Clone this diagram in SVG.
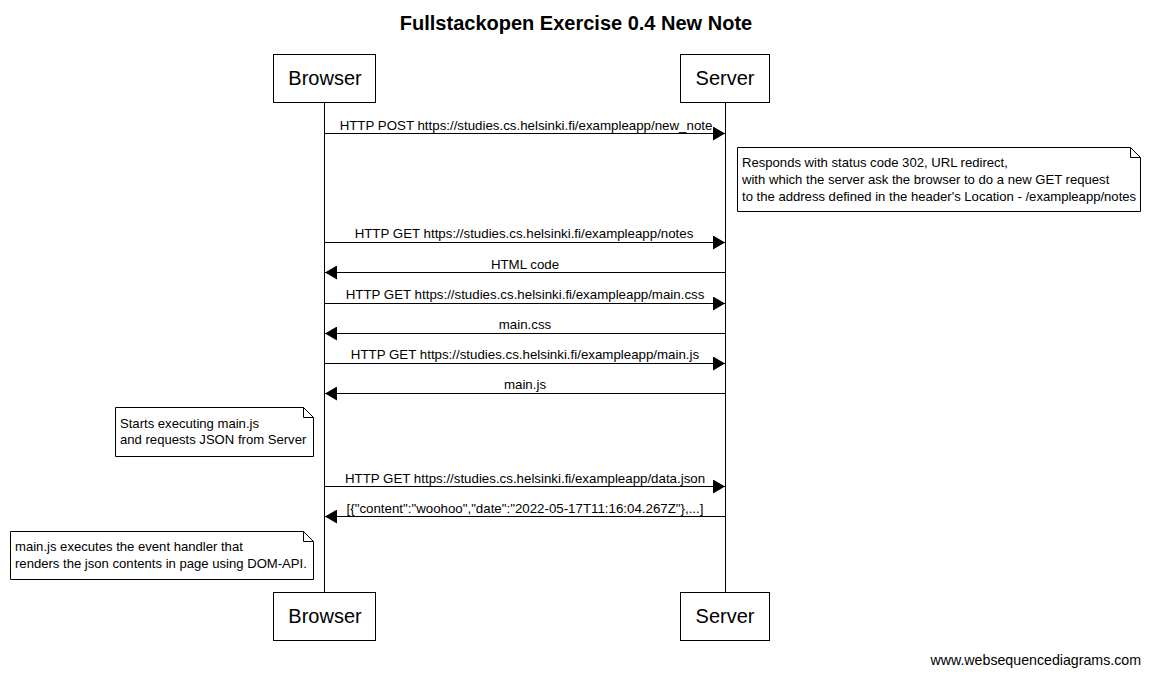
<svg xmlns="http://www.w3.org/2000/svg" width="1150" height="675" viewBox="0 0 1150 675">
<style>
text{font-family:"Liberation Sans",Arial,sans-serif;fill:#000}
.title{font-size:20px;font-weight:bold;text-anchor:middle}
.actor{font-size:20px;text-anchor:middle}
.lbl{font-size:13.3px;text-anchor:middle}
.note{font-size:13.1px}
.box{fill:#fff;stroke:#000;stroke-width:1}
.life{stroke:#000;stroke-width:1}
.msg{stroke:#000;stroke-width:1;fill:none}
.wm{font-size:14.2px;text-anchor:end}
</style>
<defs>
<marker id="ah" markerWidth="12" markerHeight="14" refX="12" refY="7" orient="auto" markerUnits="userSpaceOnUse">
<path d="M0,0 L12,7 L0,14 Z" fill="#000"/>
</marker>
</defs>
<rect width="1150" height="675" fill="#fff"/>
<text class="title" x="576" y="30">Fullstackopen Exercise 0.4 New Note</text>
<g id="lifelines">
<line class="life" x1="324.5" y1="102" x2="324.5" y2="592"/>
<line class="life" x1="725.5" y1="102" x2="725.5" y2="592"/>
</g>
<g id="browser-top"><rect class="box" x="273.5" y="54.5" width="102" height="48"/><text class="actor" x="325" y="85">Browser</text></g>
<g id="server-top"><rect class="box" x="680.5" y="54.5" width="89" height="48"/><text class="actor" x="725" y="85">Server</text></g>
<g id="browser-bottom"><rect class="box" x="273.5" y="592.5" width="102" height="48"/><text class="actor" x="325" y="623">Browser</text></g>
<g id="server-bottom"><rect class="box" x="680.5" y="592.5" width="89" height="48"/><text class="actor" x="725" y="623">Server</text></g>
<g id="connectors">
<line class="msg" x1="325" y1="133.5" x2="725" y2="133.5" marker-end="url(#ah)"/>
<text class="lbl" x="526" y="130">HTTP POST https://studies.cs.helsinki.fi/exampleapp/new_note</text>
<line class="msg" x1="325" y1="242.5" x2="725" y2="242.5" marker-end="url(#ah)"/>
<text class="lbl" x="524" y="238">HTTP GET https://studies.cs.helsinki.fi/exampleapp/notes</text>
<line class="msg" x1="725" y1="272.5" x2="325" y2="272.5" marker-end="url(#ah)"/>
<text class="lbl" x="525" y="269">HTML code</text>
<line class="msg" x1="325" y1="303.5" x2="725" y2="303.5" marker-end="url(#ah)"/>
<text class="lbl" x="525" y="299">HTTP GET https://studies.cs.helsinki.fi/exampleapp/main.css</text>
<line class="msg" x1="725" y1="333.5" x2="325" y2="333.5" marker-end="url(#ah)"/>
<text class="lbl" x="525" y="329">main.css</text>
<line class="msg" x1="325" y1="363.5" x2="725" y2="363.5" marker-end="url(#ah)"/>
<text class="lbl" x="525" y="359">HTTP GET https://studies.cs.helsinki.fi/exampleapp/main.js</text>
<line class="msg" x1="725" y1="393.5" x2="325" y2="393.5" marker-end="url(#ah)"/>
<text class="lbl" x="525" y="389">main.js</text>
<line class="msg" x1="325" y1="486.5" x2="725" y2="486.5" marker-end="url(#ah)"/>
<text class="lbl" x="525" y="483">HTTP GET https://studies.cs.helsinki.fi/exampleapp/data.json</text>
<line class="msg" x1="725" y1="516.5" x2="325" y2="516.5" marker-end="url(#ah)"/>
<text class="lbl" x="525" y="513">[{"content":"woohoo","date":"2022-05-17T11:16:04.267Z"},...]</text>
</g>
<g id="note-redirect">
<path class="box" d="M737.5,147.5 H1130.5 L1140.5,157.5 V211.5 H737.5 Z"/>
<path class="msg" d="M1130.5,147.5 V157.5 H1140.5"/>
<text class="note" x="742" y="167">Responds with status code 302, URL redirect,</text>
<text class="note" x="742" y="184">with which the server ask the browser to do a new GET request</text>
<text class="note" x="742" y="201">to the address defined in the header's Location - /exampleapp/notes</text>
</g>
<g id="note-mainjs">
<path class="box" d="M115.5,407.5 H303.5 L313.5,417.5 V456.5 H115.5 Z"/>
<path class="msg" d="M303.5,407.5 V417.5 H313.5"/>
<text class="note" x="120" y="428">Starts executing main.js</text>
<text class="note" x="120" y="444">and requests JSON from Server</text>
</g>
<g id="note-render">
<path class="box" d="M10.5,531.5 H303.5 L313.5,541.5 V579.5 H10.5 Z"/>
<path class="msg" d="M303.5,531.5 V541.5 H313.5"/>
<text class="note" x="15" y="551">main.js executes the event handler that</text>
<text class="note" x="15" y="568">renders the json contents in page using DOM-API.</text>
</g>
<text class="wm" x="1141" y="665">www.websequencediagrams.com</text>
</svg>
